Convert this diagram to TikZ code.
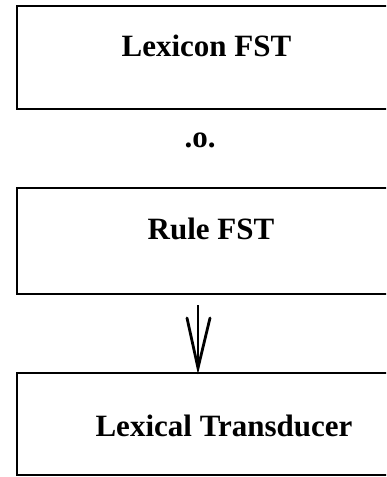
\documentclass[tikz,border=0pt]{standalone}
\usepackage{fontspec}
\setmainfont{Liberation Serif}
\begin{document}
\begin{tikzpicture}[x=1pt,y=-1pt,
  box/.style={draw=black, line width=1.6pt, rectangle, anchor=north west, minimum width=420pt, inner sep=0pt},
  lbl/.style={anchor=base, inner sep=0pt, font=\fontsize{31}{36}\selectfont\bfseries},
  shaft/.style={line width=2.4pt},
  wing/.style={line width=2.8pt, line cap=round, line join=miter}]
\useasboundingbox (0,0) rectangle (386,477);
\clip (0,0) rectangle (386,477);
\fill[white] (0,0) rectangle (386,477);
\node[box, minimum height=103pt] (lex) at (16,5) {};
\node[box, minimum height=106pt] (rule) at (16,187) {};
\node[box, minimum height=102pt] (trans) at (16,372) {};
\node[lbl] (lexT) at (206.5,56) {Lexicon FST};
\node[lbl] (comp) at (200,147) {.o.};
\node[lbl] (ruleT) at (211,239) {Rule FST};
\node[lbl] (transT) at (224,436) {Lexical Transducer};
\coordinate (a0) at (198,305);
\coordinate (tip) at (198,368);
\coordinate (wl) at (187,318);
\coordinate (wr) at (210,318);
\draw[shaft] (a0) -- (tip);
\draw[wing] (wl) -- (tip) -- (wr);
\end{tikzpicture}
\end{document}
